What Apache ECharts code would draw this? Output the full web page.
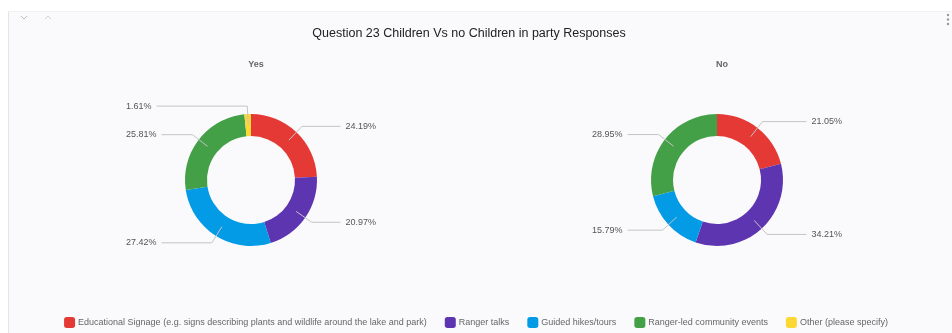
<!DOCTYPE html>
<html>
<head>
<meta charset="utf-8">
<script src="https://cdn.jsdelivr.net/npm/echarts@6/dist/echarts.min.js"></script>
<style>
  html, body { margin: 0; padding: 0; background: #ffffff; }
  #wrap { position: relative; width: 952px; height: 333px; overflow: hidden; }
  #card { position: absolute; left: 8px; top: 11px; right: 0; bottom: 0;
          background: #fafafc; border-left: 1px solid #e4e4e8; border-top: 1px solid #f0f0f3; }
  #chart { position: absolute; left: 0; top: 0; width: 952px; height: 333px; }
</style>
</head>
<body>
<div id="wrap">
  <div id="card"></div>
  <div id="chart"></div>
</div>
<script>
// Answer options, in drawing order around each ring
const categories = [
  'Educational Signage (e.g. signs describing plants and wildlife around the lake and park)',
  'Ranger talks',
  'Guided hikes/tours',
  'Ranger-led community events',
  'Other (please specify)'
];
const colors = ['#e53935', '#5e35b1', '#039be5', '#43a047', '#fdd835'];

// Share of responses (%) per group
const yesValues = [24.19, 20.97, 27.42, 25.81, 1.61];
const noValues  = [21.05, 34.21, 15.79, 28.95, 0];

const groupNames = ['Yes', 'No'];
const titleText = 'Question 23 Children Vs no Children in party Responses';

const FONT = 'Liberation Sans, Arial, sans-serif';

function ringData(values) {
  return categories
    .map((name, i) => ({ name, value: values[i], itemStyle: { color: colors[i] } }))
    .filter(d => d.value > 0);
}

function overlayData(values) {
  return categories
    .map((name, i) => ({ name, value: values[i], itemStyle: { color: 'rgba(0,0,0,0)' } }))
    .filter(d => d.value > 0);
}

// Boxes for the two donuts (left edge, width)
const boxes = [
  { left: 126, width: 250 },
  { left: 592, width: 250 }
];

function ringSeries(values, box) {
  return {
    type: 'pie',
    left: box.left, width: box.width, top: 80, height: 200,
    center: ['50%', '50%'],
    radius: [44, 66],
    startAngle: 90,
    clockwise: true,
    avoidLabelOverlap: false,
    silent: true,
    label: { show: false },
    labelLine: { show: false },
    emphasis: { disabled: true },
    data: ringData(values)
  };
}

// Transparent inner pie that carries the callout labels, so the leader
// lines start from the middle of the ring band
function labelSeries(values, box) {
  return {
    type: 'pie',
    left: box.left, width: box.width, top: 80, height: 200,
    center: ['50%', '50%'],
    radius: [0, 55],
    startAngle: 90,
    clockwise: true,
    silent: true,
    z: 3,
    emphasis: { disabled: true },
    label: {
      show: true,
      position: 'outside',
      alignTo: 'edge',
      edgeDistance: 0,
      distanceToLabelLine: 5,
      formatter: p => p.value.toFixed(2) + '%',
      color: '#555555',
      fontSize: 9,
      fontFamily: FONT
    },
    labelLine: {
      show: true,
      length: 19,
      length2: 20,
      lineStyle: { color: '#c4c4c4', width: 1 }
    },
    data: overlayData(values)
  };
}

const chart = echarts.init(document.getElementById('chart'), null, { renderer: 'canvas' });

chart.setOption({
  backgroundColor: 'transparent',
  animation: false,
  title: [
    { text: titleText, left: 464, top: 22, textAlign: 'center',
      textStyle: { fontSize: 12.5, fontWeight: 'normal', color: '#222222', fontFamily: FONT } },
    { text: groupNames[0], left: 251, top: 55, textAlign: 'center',
      textStyle: { fontSize: 9, fontWeight: 'bold', color: '#666666', fontFamily: FONT } },
    { text: groupNames[1], left: 717, top: 55, textAlign: 'center',
      textStyle: { fontSize: 9, fontWeight: 'bold', color: '#666666', fontFamily: FONT } }
  ],
  legend: {
    data: categories,
    bottom: 0,
    left: 'center',
    icon: 'roundRect',
    itemWidth: 11,
    itemHeight: 11,
    itemGap: 18,
    selectedMode: false,
    textStyle: { fontSize: 9, color: '#666666', fontFamily: FONT, padding: [0, 0, 0, -2] }
  },
  graphic: [
    // collapse / expand chevrons and the menu dots on the card header
    { type: 'polyline', shape: { points: [[21, 16], [24, 19], [27, 16]] },
      style: { stroke: '#b8b8be', lineWidth: 1, fill: null } },
    { type: 'polyline', shape: { points: [[45, 19], [48, 16], [51, 19]] },
      style: { stroke: '#d0d0d6', lineWidth: 1, fill: null } },
    { type: 'circle', shape: { cx: 948, cy: 15, r: 1.2 }, style: { fill: '#999999' } },
    { type: 'circle', shape: { cx: 948, cy: 19.5, r: 1.2 }, style: { fill: '#999999' } },
    { type: 'circle', shape: { cx: 948, cy: 24, r: 1.2 }, style: { fill: '#999999' } }
  ],
  series: [
    ringSeries(yesValues, boxes[0]),
    ringSeries(noValues, boxes[1]),
    labelSeries(yesValues, boxes[0]),
    labelSeries(noValues, boxes[1])
  ]
});
</script>
</body>
</html>
